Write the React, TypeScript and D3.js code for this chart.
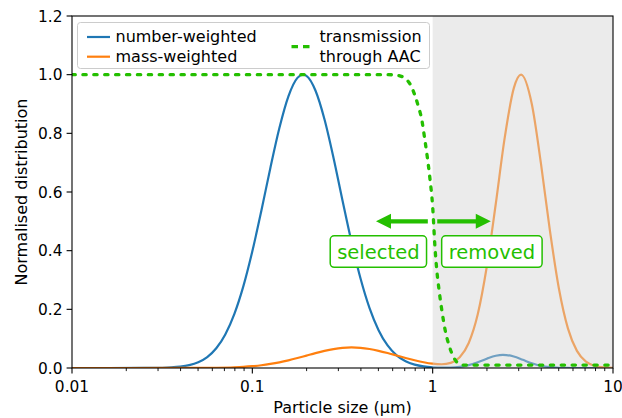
import React, { useEffect, useRef } from 'react';
import * as d3 from 'd3';

// ---------- data ----------
// log10 of particle size (µm) and normalised number-weighted distribution
const numberLogD = [
  -2.0, -1.6, -1.5, -1.45, -1.4, -1.35, -1.3, -1.25, -1.2, -1.15, -1.1, -1.05, -1.0,
  -0.95, -0.9, -0.85, -0.8, -0.75, -0.72, -0.7, -0.65, -0.6, -0.55, -0.5, -0.45, -0.4,
  -0.35, -0.3, -0.25, -0.2, -0.15, -0.1, -0.05, 0.0, 0.05, 0.1, 0.15, 0.2, 0.25, 0.3,
  0.35, 0.39, 0.45, 0.5, 0.55, 0.6, 0.65, 0.7, 0.75, 0.8, 1.0,
];
const numberValues = [
  0, 0.0001, 0.0008, 0.002, 0.0045, 0.0096, 0.0195, 0.0372, 0.0672, 0.1144, 0.1838, 0.2784, 0.398,
  0.536, 0.682, 0.818, 0.926, 0.989, 1.0, 0.996, 0.946, 0.848, 0.717, 0.571, 0.43, 0.305,
  0.204, 0.129, 0.0768, 0.0432, 0.0229, 0.0114, 0.0054, 0.0024, 0.0014, 0.0017, 0.0041, 0.0098, 0.0196, 0.0317,
  0.0418, 0.045, 0.0392, 0.0278, 0.016, 0.0075, 0.0029, 0.0009, 0.0002, 0, 0,
];

// mass-weighted distribution
const massLogD = [
  -2.0, -1.4, -1.3, -1.2, -1.1, -1.05, -1.0, -0.95, -0.9, -0.85, -0.8, -0.75, -0.7, -0.65,
  -0.6, -0.55, -0.5, -0.45, -0.4, -0.35, -0.3, -0.25, -0.2, -0.15, -0.1, -0.05, 0.0, 0.05,
  0.1, 0.15, 0.2, 0.25, 0.3, 0.35, 0.4, 0.45, 0.49, 0.55, 0.6, 0.65, 0.7, 0.75, 0.8,
  0.85, 0.9, 0.95, 1.0,
];
const massValues = [
  0, 0.0001, 0.0002, 0.0008, 0.0024, 0.0039, 0.0062, 0.0094, 0.0138, 0.0193, 0.0261, 0.0339, 0.0423, 0.0507,
  0.0583, 0.0645, 0.0686, 0.07, 0.0687, 0.0647, 0.0586, 0.051, 0.0426, 0.0342, 0.0264, 0.0196, 0.0147, 0.0128,
  0.0174, 0.0367, 0.0854, 0.183, 0.345, 0.56, 0.787, 0.954, 1.0, 0.899, 0.699, 0.469, 0.271, 0.135, 0.0583,
  0.0216, 0.0069, 0.0019, 0.0005,
];

// transmission through AAC
const transLogD = [
  -2.0, -0.25, -0.2, -0.16, -0.12, -0.1, -0.08, -0.06, -0.045, -0.03, -0.015, 0.0,
  0.013, 0.023, 0.036, 0.05, 0.069, 0.093, 0.115, 0.142, 0.17, 1.0,
];
const transValues = [
  1.0, 1.0, 0.998, 0.99, 0.962, 0.932, 0.893, 0.845, 0.785, 0.72, 0.645, 0.55,
  0.41, 0.333, 0.263, 0.2, 0.13, 0.073, 0.038, 0.016, 0.01, 0.01,
];

const xTicks = [0.01, 0.1, 1, 10];
const xTickLabels = ['0.01', '0.1', '1', '10'];
const xMinorTicks = [
  0.02, 0.03, 0.04, 0.05, 0.06, 0.07, 0.08, 0.09,
  0.2, 0.3, 0.4, 0.5, 0.6, 0.7, 0.8, 0.9,
  2, 3, 4, 5, 6, 7, 8, 9,
];
const yTicks = [0, 0.2, 0.4, 0.6, 0.8, 1.0, 1.2];
const yTickLabels = ['0.0', '0.2', '0.4', '0.6', '0.8', '1.0', '1.2'];

const cutoffSize = 1; // µm, start of removed region
const xDomain = [0.01, 10];
const yDomain = [0, 1.2];

const legendLeft = ['number-weighted', 'mass-weighted'];
const legendRight = ['transmission', 'through AAC'];

// annotation anchors (data units)
const arrowLeft = { from: 0.94, to: 0.485, y: 0.5 };
const arrowRight = { from: 1.06, to: 2.1, y: 0.5 };
const labelSelected = { text: 'selected', x: 0.5, y: 0.397 };
const labelRemoved = { text: 'removed', x: 2.13, y: 0.397 };

const BLUE = '#1f77b4';
const ORANGE = '#ff7f0e';
const GREEN = '#24bf00';
const FONT = "'DejaVu Sans', sans-serif";

export default function App() {
  const ref = useRef<SVGSVGElement | null>(null);

  useEffect(() => {
    const W = 622, H = 418;
    const L = 72, R = 613, T = 16, B = 368;
    const svg = d3.select(ref.current!);
    svg.selectAll('*').remove();
    svg.attr('width', W).attr('height', H);

    svg.append('rect').attr('width', W).attr('height', H).attr('fill', '#fff');

    const x = d3.scaleLog().domain(xDomain).range([L, R]);
    const y = d3.scaleLinear().domain(yDomain).range([B, T]);

    const defs = svg.append('defs');
    defs.append('clipPath').attr('id', 'plotclip')
      .append('rect').attr('x', L).attr('y', T).attr('width', R - L).attr('height', B - T);

    const plot = svg.append('g').attr('clip-path', 'url(#plotclip)');

    const mk = (ls: number[]) =>
      d3.line<number>()
        .x((_, i) => x(Math.pow(10, ls[i])))
        .y((d) => y(d))
        .curve(d3.curveMonotoneX);

    plot.append('path').attr('d', mk(numberLogD)(numberValues)!)
      .attr('fill', 'none').attr('stroke', BLUE).attr('stroke-width', 2.2);
    plot.append('path').attr('d', mk(massLogD)(massValues)!)
      .attr('fill', 'none').attr('stroke', ORANGE).attr('stroke-width', 2.2);

    // shaded removed region
    plot.append('rect')
      .attr('x', x(cutoffSize)).attr('y', T)
      .attr('width', x(xDomain[1]) - x(cutoffSize)).attr('height', B - T)
      .attr('fill', '#d3d3d3').attr('fill-opacity', 0.45);

    plot.append('path').attr('d', mk(transLogD)(transValues)!)
      .attr('fill', 'none').attr('stroke', GREEN).attr('stroke-width', 3.3)
      .attr('stroke-dasharray', '3.3 7.6').attr('stroke-linecap', 'round');

    // frame
    svg.append('rect').attr('x', L).attr('y', T).attr('width', R - L).attr('height', B - T)
      .attr('fill', 'none').attr('stroke', '#000').attr('stroke-width', 1.1);

    // x ticks
    const gx = svg.append('g');
    xTicks.forEach((t, i) => {
      gx.append('line').attr('x1', x(t)).attr('x2', x(t)).attr('y1', B).attr('y2', B + 5.4)
        .attr('stroke', '#000').attr('stroke-width', 1.1);
      gx.append('text').attr('x', x(t)).attr('y', 391.5).attr('text-anchor', 'middle')
        .attr('font-family', FONT).attr('font-size', 15.4).attr('fill', '#000').text(xTickLabels[i]);
    });
    xMinorTicks.forEach((t) => {
      gx.append('line').attr('x1', x(t)).attr('x2', x(t)).attr('y1', B).attr('y2', B + 3.1)
        .attr('stroke', '#000').attr('stroke-width', 0.9);
    });

    // y ticks
    const gy = svg.append('g');
    yTicks.forEach((t, i) => {
      gy.append('line').attr('x1', L - 5.4).attr('x2', L).attr('y1', y(t)).attr('y2', y(t))
        .attr('stroke', '#000').attr('stroke-width', 1.1);
      gy.append('text').attr('x', 62.5).attr('y', y(t) + 5.6).attr('text-anchor', 'end')
        .attr('font-family', FONT).attr('font-size', 15.4).attr('fill', '#000').text(yTickLabels[i]);
    });

    // axis labels
    svg.append('text').attr('x', (L + R) / 2).attr('y', 412.5).attr('text-anchor', 'middle')
      .attr('font-family', FONT).attr('font-size', 16).attr('fill', '#000').text('Particle size (µm)');
    svg.append('text').attr('transform', `translate(26.7,${(T + B) / 2}) rotate(-90)`)
      .attr('text-anchor', 'middle')
      .attr('font-family', FONT).attr('font-size', 16).attr('fill', '#000').text('Normalised distribution');

    // legend
    const lg = svg.append('g');
    lg.append('rect').attr('x', 77.5).attr('y', 22.5).attr('width', 352).attr('height', 46).attr('rx', 3)
      .attr('fill', '#fff').attr('fill-opacity', 0.8).attr('stroke', '#cccccc').attr('stroke-width', 1);
    const ent = [
      { c: BLUE, y: 37, label: legendLeft[0], ty: 42 },
      { c: ORANGE, y: 56.7, label: legendLeft[1], ty: 61.5 },
    ];
    ent.forEach((e) => {
      lg.append('line').attr('x1', 87).attr('x2', 110).attr('y1', e.y).attr('y2', e.y)
        .attr('stroke', e.c).attr('stroke-width', 2.2);
      lg.append('text').attr('x', 115.5).attr('y', e.ty).attr('font-family', FONT).attr('font-size', 16)
        .attr('fill', '#000').text(e.label);
    });
    lg.append('line').attr('x1', 291.5).attr('x2', 311).attr('y1', 46.7).attr('y2', 46.7)
      .attr('stroke', GREEN).attr('stroke-width', 3.3).attr('stroke-dasharray', '6.5 5')
      .attr('stroke-linecap', 'butt');
    lg.append('text').attr('x', 319.5).attr('y', 42).attr('font-family', FONT).attr('font-size', 16)
      .attr('fill', '#000').text(legendRight[0]);
    lg.append('text').attr('x', 319.5).attr('y', 61.5).attr('font-family', FONT).attr('font-size', 16)
      .attr('fill', '#000').text(legendRight[1]);

    // arrows
    const drawArrow = (a: { from: number; to: number; y: number }) => {
      const x0 = x(a.from), x1 = x(a.to), yy = y(a.y);
      const dir = Math.sign(x1 - x0);
      const headL = 15, headW = 7.5, shaft = 2.2;
      const xb = x1 - dir * headL;
      const pts: [number, number][] = [
        [x0, yy - shaft], [xb, yy - shaft], [xb, yy - headW], [x1, yy],
        [xb, yy + headW], [xb, yy + shaft], [x0, yy + shaft],
      ];
      svg.append('path').attr('d', d3.line()(pts)! + 'Z').attr('fill', GREEN);
    };
    drawArrow(arrowLeft);
    drawArrow(arrowRight);

    // labelled boxes
    const drawLabel = (lb: { text: string; x: number; y: number }) => {
      const g = svg.append('g');
      const cx = x(lb.x), cy = y(lb.y);
      const rect = g.append('rect');
      const t = g.append('text').attr('x', cx).attr('y', cy + 7.1).attr('text-anchor', 'middle')
        .attr('font-family', FONT).attr('font-size', 19.5).attr('fill', GREEN).text(lb.text);
      const w = (t.node() as SVGTextElement).getComputedTextLength();
      rect.attr('x', cx - w / 2 - 7).attr('y', cy - 15.8).attr('width', w + 14).attr('height', 31.6)
        .attr('rx', 4).attr('fill', '#fff').attr('stroke', GREEN).attr('stroke-width', 1.5);
    };
    drawLabel(labelSelected);
    drawLabel(labelRemoved);
  }, []);

  return (
    <svg ref={ref} width={622} height={418}
      style={{ position: 'absolute', left: 0, top: 0, display: 'block' }} />
  );
}
